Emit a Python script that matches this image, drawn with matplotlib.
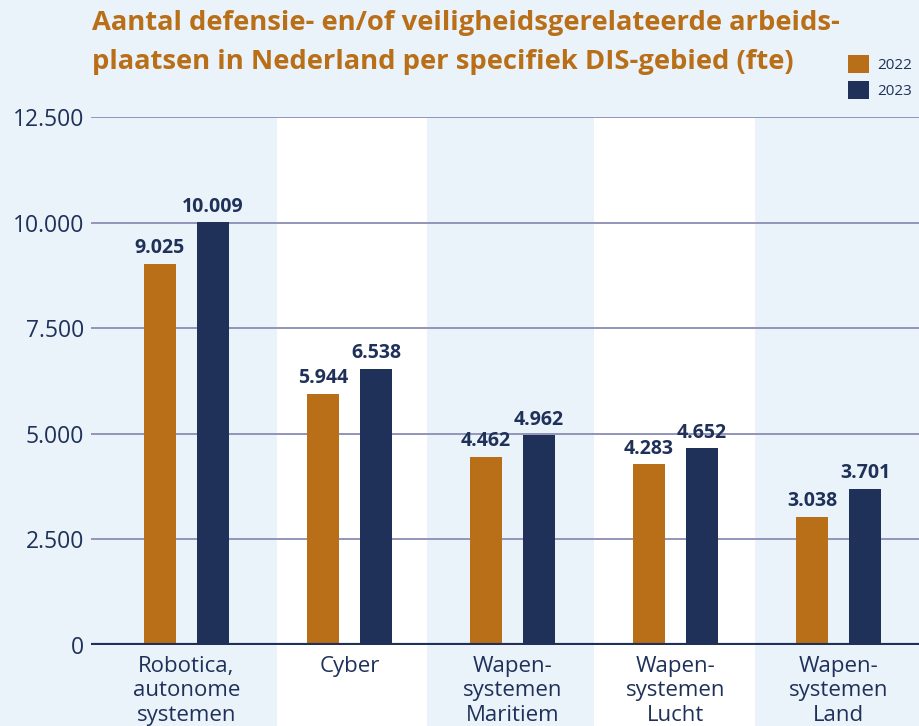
import matplotlib.pyplot as plt
import numpy as np
from matplotlib.patches import Rectangle

categories = ["Robotica,\nautonome\nsystemen", "Cyber", "Wapen-\nsystemen\nMaritiem",
              "Wapen-\nsystemen\nLucht", "Wapen-\nsystemen\nLand"]
fte_2022 = [9025, 5944, 4462, 4283, 3038]
fte_2023 = [10009, 6538, 4962, 4652, 3701]
yticks = [0, 2500, 5000, 7500, 10000, 12500]

bg = "#eaf2fa"
orange = "#b96f17"
navy = "#1f3159"
grid_col = "#9295b8"

plt.rcParams['font.family'] = ['Open Sans', 'DejaVu Sans']


def nl(v):
    return f"{v:,}".replace(",", ".")


fig = plt.figure(figsize=(9.2, 7.26), dpi=100, facecolor=bg)
ax = fig.add_axes([91 / 920, 81 / 726, 829 / 920, 528 / 726])
ax.set_facecolor("none")

x = np.arange(len(categories))
w = 0.195
off = 0.163

# white bands behind categories 2 and 4
for a, b in [(0.555, 1.475), (2.5, 3.49)]:
    ax.add_patch(Rectangle((a, -0.16), b - a, 1.16, transform=ax.get_xaxis_transform(),
                           facecolor="white", edgecolor="none", clip_on=False, zorder=0))

for t in yticks[1:]:
    ax.axhline(t, color=grid_col, lw=1.4, zorder=1)
ax.axhline(0, color=navy, lw=3, zorder=3)

b1 = ax.bar(x - off, fte_2022, w, color=orange, zorder=2, label="2022")
b2 = ax.bar(x + off, fte_2023, w, color=navy, zorder=2, label="2023")

for bars, vals in [(b1, fte_2022), (b2, fte_2023)]:
    for r, v in zip(bars, vals):
        ax.annotate(nl(v), (r.get_x() + r.get_width() / 2, v), xytext=(0, 4),
                    textcoords="offset points", ha="center", va="bottom",
                    fontsize=14, fontweight="bold", color=navy)

ax.set_xlim(-0.586, 4.5)
ax.set_ylim(0, 12500)
ax.set_yticks(yticks)
ax.set_yticklabels([nl(t) for t in yticks], fontsize=16.5, color=navy)
ax.set_xticks(x)
ax.set_xticklabels(categories, fontsize=16, color=navy, linespacing=1.2)
ax.tick_params(axis="x", length=0, pad=8)
ax.tick_params(axis="y", length=0, pad=5)
for s in ax.spines.values():
    s.set_visible(False)

fig.text(92 / 920, 1 - 23 / 726, "Aantal defensie- en/of veiligheidsgerelateerde arbeids-",
         fontsize=19.7, fontweight="bold", color=orange, va="center", ha="left")
fig.text(92 / 920, 1 - 62 / 726, "plaatsen in Nederland per specifiek DIS-gebied (fte)",
         fontsize=19.7, fontweight="bold", color=orange, va="center", ha="left")

leg = fig.legend(handles=[b1, b2], loc="upper left", bbox_to_anchor=(848 / 920, 1 - 55 / 726),
                 frameon=False, fontsize=11, handlelength=1.4, handleheight=1.4,
                 handletextpad=0.5, labelspacing=0.55, labelcolor=navy,
                 borderpad=0, borderaxespad=0)

fig.savefig("out.png", dpi=100, facecolor=bg)
